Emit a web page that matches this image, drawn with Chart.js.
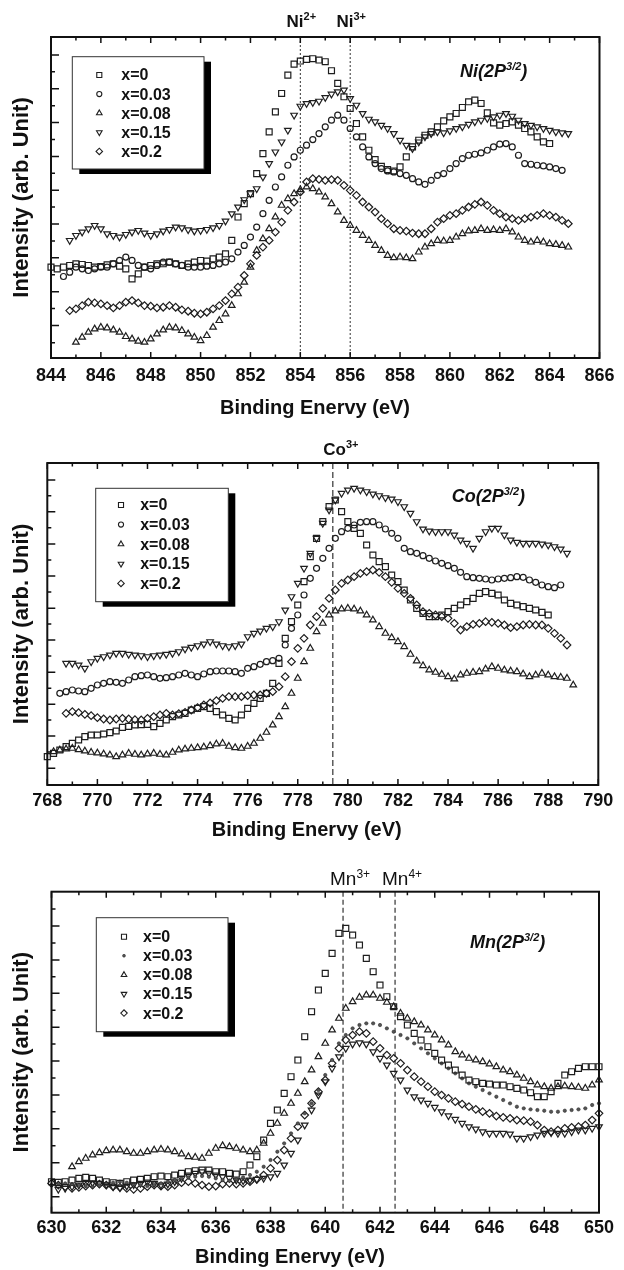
<!DOCTYPE html>
<html>
<head>
<meta charset="utf-8">
<script src="https://cdn.jsdelivr.net/npm/chart.js@4.4.0/dist/chart.umd.min.js"></script>
<style>
  html, body { margin: 0; padding: 0; background: #fff; }
  #wrap { position: relative; width: 624px; height: 1270px; }
  canvas { position: absolute; left: 0; }
</style>
</head>
<body>
<div id="wrap">
  <canvas id="niChart" width="624" height="420" style="top:0"></canvas>
  <canvas id="coChart" width="624" height="420" style="top:420px"></canvas>
  <canvas id="mnChart" width="624" height="430" style="top:840px"></canvas>
</div>
<script>
const seriesNames = ['x=0', 'x=0.03', 'x=0.08', 'x=0.15', 'x=0.2'];

// ---- Ni(2P3/2) ----
const niEnergy = [
  844, 844.25, 844.5, 844.75, 845, 845.25, 845.5, 845.75,
  846, 846.25, 846.5, 846.75, 847, 847.25, 847.5, 847.75,
  848, 848.25, 848.5, 848.75, 849, 849.25, 849.5, 849.75,
  850, 850.25, 850.5, 850.75, 851, 851.25, 851.5, 851.75,
  852, 852.25, 852.5, 852.75, 853, 853.25, 853.5, 853.75,
  854, 854.25, 854.5, 854.75, 855, 855.25, 855.5, 855.75,
  856, 856.25, 856.5, 856.75, 857, 857.25, 857.5, 857.75,
  858, 858.25, 858.5, 858.75, 859, 859.25, 859.5, 859.75,
  860, 860.25, 860.5, 860.75, 861, 861.25, 861.5, 861.75,
  862, 862.25, 862.5, 862.75, 863, 863.25, 863.5, 863.75,
  864, 864.25, 864.5, 864.75
];
const niX0 = [
  25.0, 24.5, 25.0, 25.5, 26.0, 25.8, 25.5, 25.0,
  25.2, 25.7, 26.0, 25.3, 24.5, 21.5, 23.0, 25.0,
  25.5, 26.0, 26.0, 26.5, 26.0, 25.5, 26.0, 26.5,
  27.0, 26.8, 27.5, 28.0, 29.0, 33.0, 40.0, 44.0,
  47.0, 53.0, 59.0, 65.5, 71.5, 77.0, 82.5, 85.8,
  86.7, 87.2, 87.4, 87.0, 86.5, 83.8, 80.0, 76.0,
  72.5, 68.0, 64.0, 60.0, 57.2, 55.2, 54.2, 53.8,
  55.0, 58.0, 61.0, 63.0, 64.5, 65.5, 67.0, 68.8,
  70.0, 71.0, 72.8, 74.5, 75.0, 74.0, 71.2, 68.2,
  67.5, 68.0, 68.5, 67.5, 66.5, 65.5, 64.0, 62.5,
  62.0, null, null, null
];
const niX003 = [
  null, null, 22.2, 23.5, 25.0, 24.5, 24.0, 24.5,
  25.0, 25.0, 26.0, 27.0, 28.0, 27.0, 25.5, 25.0,
  24.5, 25.5, 26.5, 26.5, 26.0, 25.5, 25.0, 25.0,
  25.0, 25.3, 25.5, 26.0, 26.5, 27.5, 29.5, 31.5,
  34.0, 37.0, 41.0, 45.0, 49.0, 52.0, 55.5, 58.0,
  60.0, 61.5, 63.2, 65.0, 67.0, 69.0, 70.5, 69.0,
  66.5, 64.0, 61.0, 58.0, 56.0, 54.5, 53.8, 53.5,
  53.0, 52.5, 51.5, 50.5, 49.8, 51.0, 52.5, 53.0,
  54.5, 56.0, 57.5, 58.5, 58.8, 59.2, 60.0, 61.0,
  61.8, 62.0, 61.0, 58.5, 56.0, 55.8, 55.5, 55.3,
  55.0, 54.5, 54.0, null
];
const niX008 = [
  null, null, null, null, 2.5, 4.0, 5.5, 6.5,
  7.0, 6.8, 6.2, 5.5, 4.2, 3.5, 2.8, 2.5,
  3.5, 5.0, 6.2, 7.0, 6.8, 6.0, 5.0, 4.0,
  3.0, 4.5, 7.0, 9.0, 11.0, 13.5, 17.0, 20.5,
  25.0, 30.0, 33.5, 36.5, 40.0, 43.5, 45.5, 47.0,
  48.2, 49.0, 48.5, 47.5, 46.0, 44.0, 41.5, 39.0,
  37.5, 36.0, 34.5, 33.0, 31.5, 30.0, 28.5, 27.8,
  28.0, 27.8, 27.5, 29.5, 31.0, 32.0, 33.0, 32.8,
  33.0, 34.0, 35.0, 35.8, 36.0, 36.5, 36.0, 36.2,
  36.0, 36.5, 35.5, 34.0, 33.0, 32.5, 33.0, 32.5,
  32.0, 31.8, 31.5, 31.0
];
const niX015 = [
  null, null, null, 33.0, 34.5, 35.5, 36.5, 37.5,
  36.5, 35.0, 34.5, 34.0, 34.8, 35.5, 36.0, 35.2,
  34.5, 35.0, 35.8, 36.3, 37.0, 36.8, 36.2, 35.8,
  36.0, 36.3, 36.8, 37.5, 38.8, 41.0, 43.0, 45.2,
  47.0, 48.5, 52.0, 56.0, 59.5, 62.5, 66.0, 70.5,
  73.2, 74.0, 74.3, 74.7, 75.8, 76.8, 77.5, 78.0,
  75.5, 73.5, 71.0, 69.3, 68.5, 67.5, 66.5, 65.0,
  63.0, 61.5, 60.5, 62.5, 64.0, 65.0, 65.5, 65.2,
  65.8, 66.5, 67.0, 67.8, 68.5, 69.0, 69.5, 70.0,
  70.5, 71.0, 70.2, 69.0, 68.0, 67.5, 67.0, 66.5,
  66.0, 65.5, 65.2, 65.0
];
const niX02 = [
  null, null, null, 12.0, 12.5, 13.5, 14.5, 14.3,
  14.0, 13.5, 12.8, 13.5, 14.5, 15.0, 14.3, 13.5,
  13.3, 12.8, 13.0, 13.5, 13.0, 12.2, 11.8, 11.2,
  11.0, 11.5, 12.5, 13.5, 15.0, 17.0, 19.0, 22.5,
  26.0, 28.5, 31.0, 33.0, 35.5, 38.5, 42.0, 44.5,
  47.5, 50.5, 51.5, 51.3, 51.0, 51.2, 51.0, 49.5,
  48.0, 46.5, 44.5, 43.0, 41.5, 39.5, 38.0, 36.5,
  36.0, 35.8, 35.2, 35.0, 35.0, 36.5, 38.5, 39.5,
  40.5, 41.0, 42.0, 43.0, 43.8, 44.5, 43.5, 42.0,
  41.0, 40.0, 39.5, 39.0, 39.5, 40.0, 40.5, 41.0,
  40.5, 40.0, 39.0, 38.0
];
const niTickLabels = [844, 846, 848, 850, 852, 854, 856, 858, 860, 862, 864, 866];
const niYMajor = [7.5, 17.6, 27.8, 37.9, 48.0, 58.1, 68.3, 78.4, 88.5];
const niYMinor = [2.4, 12.6, 22.7, 32.8, 43.0, 53.1, 63.2, 73.3, 83.5];
const niRefEnergy = [854, 856];
const niRefIon = ['Ni', 'Ni'];
const niRefCharge = ['2+', '3+'];

// ---- Co(2P3/2) ----
const coEnergy = [
  768, 768.25, 768.5, 768.75, 769, 769.25, 769.5, 769.75,
  770, 770.25, 770.5, 770.75, 771, 771.25, 771.5, 771.75,
  772, 772.25, 772.5, 772.75, 773, 773.25, 773.5, 773.75,
  774, 774.25, 774.5, 774.75, 775, 775.25, 775.5, 775.75,
  776, 776.25, 776.5, 776.75, 777, 777.25, 777.5, 777.75,
  778, 778.25, 778.5, 778.75, 779, 779.25, 779.5, 779.75,
  780, 780.25, 780.5, 780.75, 781, 781.25, 781.5, 781.75,
  782, 782.25, 782.5, 782.75, 783, 783.25, 783.5, 783.75,
  784, 784.25, 784.5, 784.75, 785, 785.25, 785.5, 785.75,
  786, 786.25, 786.5, 786.75, 787, 787.25, 787.5, 787.75,
  788, 788.25, 788.5, 788.75, 789
];
const coX0 = [
  5.5, 6.5, 7.5, 8.5, 9.5, 10.5, 11.5, 12.0,
  12.0, 12.3, 12.7, 13.2, 14.3, 14.6, 15.0, 15.1,
  15.2, 14.5, 15.5, 16.5, 17.5, 18.0, 18.5, 19.5,
  20.0, 20.5, 20.0, 19.0, 18.0, 17.0, 16.5, 18.0,
  20.0, 21.5, 23.0, 24.5, 27.5, 33.5, 41.0, 46.0,
  51.0, 58.0, 65.5, 71.0, 76.0, 80.5, 82.5, 79.0,
  76.0, 74.0, 72.5, 69.0, 66.0, 64.0, 62.5, 60.0,
  58.0, 55.5, 52.5, 50.0, 48.5, 47.5, 47.5, 48.0,
  49.0, 50.0, 51.0, 52.0, 53.0, 54.5, 55.0, 54.5,
  54.0, 52.5, 51.5, 51.0, 50.5, 50.0, 49.5, 48.8,
  48.0, null, null, null, null
];
const coX003 = [
  null, null, 24.5, 25.0, 25.5, 25.2, 25.0, 26.0,
  27.0, 27.5, 28.0, 27.8, 27.5, 28.5, 29.5, 29.8,
  30.0, 29.5, 29.0, 29.2, 29.5, 30.0, 30.5, 30.0,
  29.5, 30.3, 31.0, 31.2, 31.2, 31.2, 31.0, 30.5,
  32.0, 32.5, 33.2, 34.0, 34.3, 35.0, 39.0, 44.0,
  48.0, 54.0, 59.0, 62.0, 65.0, 68.0, 71.0, 73.0,
  74.0, 75.0, 75.8, 76.0, 76.0, 75.0, 73.8, 72.5,
  71.0, 68.0, 67.0, 66.5, 65.8, 65.0, 64.2, 63.5,
  62.8, 62.0, 60.8, 59.5, 59.2, 59.0, 58.8, 58.5,
  58.8, 59.0, 59.2, 59.5, 59.3, 58.5, 57.8, 57.0,
  56.5, 56.2, 57.0, null, null
];
const coX008 = [
  null, 7.0, 7.5, 7.8, 8.0, 7.6, 7.2, 6.8,
  6.6, 6.3, 6.0, 5.5, 6.0, 6.5, 6.2, 6.0,
  6.3, 6.5, 6.2, 6.0, 6.8, 7.5, 7.8, 8.0,
  8.2, 8.4, 8.8, 9.3, 9.5, 8.6, 8.2, 8.0,
  8.6, 9.5, 11.0, 12.8, 15.0, 17.5, 20.5, 24.5,
  29.0, 34.0, 38.0, 43.0, 45.5, 48.0, 49.2, 49.8,
  50.0, 49.8, 49.2, 48.0, 46.5, 44.5, 42.5, 41.2,
  40.0, 38.5, 36.2, 34.2, 32.8, 31.5, 30.8, 30.2,
  29.5, 28.8, 30.0, 30.5, 30.8, 31.0, 31.8, 32.5,
  32.0, 31.5, 31.2, 31.0, 30.3, 29.5, 30.0, 30.5,
  30.0, 29.5, 29.3, 29.0, 27.0
];
const coX015 = [
  null, null, null, 33.5, 33.5, 33.0, 32.0, 34.0,
  35.0, 35.5, 36.0, 36.5, 36.5, 36.2, 36.0, 35.8,
  35.5, 35.8, 36.0, 36.2, 36.5, 37.0, 37.8, 38.3,
  38.8, 39.3, 40.0, 39.3, 38.8, 38.5, 38.8, 39.3,
  41.5, 42.5, 43.2, 44.0, 44.5, 46.0, 49.5, 53.5,
  57.5, 62.0, 66.5, 71.0, 75.5, 79.5, 82.5, 84.5,
  85.5, 86.0, 85.5, 85.0, 84.3, 83.8, 83.2, 82.8,
  82.0, 80.5, 78.5, 76.0, 73.8, 73.2, 73.0, 73.0,
  73.0, 72.0, 70.5, 69.5, 68.0, 71.0, 73.0, 74.0,
  74.0, 72.0, 70.5, 69.8, 69.5, 69.5, 69.5, 69.3,
  69.0, 68.5, 67.8, 66.5, null
];
const coX02 = [
  null, null, null, 18.5, 19.0, 18.7, 18.2, 17.8,
  17.2, 16.8, 16.5, 16.8, 17.0, 16.8, 16.6, 16.5,
  17.0, 17.5, 18.0, 18.5, 18.0, 18.4, 18.8, 19.5,
  20.2, 21.0, 21.6, 22.3, 23.0, 23.5, 23.5, 23.5,
  23.8, 24.0, 24.0, 24.5, 25.0, 26.5, 29.5, 34.0,
  38.0, 41.0, 45.0, 47.5, 50.0, 53.0, 55.5, 57.5,
  58.5, 59.5, 60.5, 61.0, 61.5, 60.8, 59.5, 57.8,
  56.0, 54.5, 53.0, 51.0, 49.0, 48.5, 48.0, 47.5,
  47.0, 45.5, 43.5, 44.5, 45.2, 45.5, 46.0, 45.8,
  45.5, 45.0, 44.2, 44.5, 45.0, 45.2, 45.0, 45.0,
  44.0, 42.5, 41.0, 39.0, null
];
const coTickLabels = [768, 770, 772, 774, 776, 778, 780, 782, 784, 786, 788, 790];
const coYMajor = [2.0, 11.7, 21.2, 30.8, 40.5, 50.0, 59.7, 69.3, 79.0, 88.5];
const coYMinor = [6.9, 16.5, 26.0, 35.7, 45.3, 54.9, 64.5, 74.2, 83.8];
const coRefEnergy = [779.4];
const coRefIon = ['Co'];
const coRefCharge = ['3+'];

// ---- Mn(2P3/2) ----
const mnEnergy = [
  630, 630.25, 630.5, 630.75, 631, 631.25, 631.5, 631.75,
  632, 632.25, 632.5, 632.75, 633, 633.25, 633.5, 633.75,
  634, 634.25, 634.5, 634.75, 635, 635.25, 635.5, 635.75,
  636, 636.25, 636.5, 636.75, 637, 637.25, 637.5, 637.75,
  638, 638.25, 638.5, 638.75, 639, 639.25, 639.5, 639.75,
  640, 640.25, 640.5, 640.75, 641, 641.25, 641.5, 641.75,
  642, 642.25, 642.5, 642.75, 643, 643.25, 643.5, 643.75,
  644, 644.25, 644.5, 644.75, 645, 645.25, 645.5, 645.75,
  646, 646.25, 646.5, 646.75, 647, 647.25, 647.5, 647.75,
  648, 648.25, 648.5, 648.75, 649, 649.25, 649.5, 649.75,
  650
];
const mnX0 = [
  6.5, 6.3, 6.5, 7.0, 7.5, 7.8, 7.5, 7.0,
  6.5, 6.2, 6.0, 6.5, 7.0, 7.2, 7.5, 8.0,
  8.2, 8.0, 8.5, 9.0, 9.5, 9.8, 10.0, 10.0,
  9.5, 9.5, 9.0, 8.8, 9.5, 11.5, 14.0, 19.0,
  24.0, 28.0, 33.0, 38.0, 43.0, 50.0, 57.5, 64.0,
  69.0, 75.0, 81.0, 82.5, 80.5, 77.5, 73.5, 69.5,
  65.5, 62.0, 59.0, 56.0, 53.5, 51.0, 49.0, 47.0,
  45.0, 43.0, 41.5, 40.0, 38.5, 37.0, 36.5, 36.0,
  35.8, 35.5, 35.5, 35.0, 34.5, 34.0, 33.2, 32.0,
  32.0, 33.5, 36.0, 38.5, 39.5, 40.5, 41.0, 41.0,
  41.0
];
const mnX003 = [
  5.5, 5.8, 6.0, 5.8, 5.5, 5.2, 5.0, 5.3,
  5.8, 6.2, 6.5, 6.2, 5.8, 5.5, 5.2, 5.5,
  6.0, 6.5, 7.0, 7.5, 7.8, 8.0, 8.2, 8.0,
  7.5, 7.0, 6.8, 7.2, 7.8, 8.5, 9.5, 11.0,
  13.0, 15.5, 18.0, 21.0, 24.0, 27.0, 30.0, 34.0,
  38.5, 43.0, 48.0, 50.5, 52.5, 53.5, 54.0, 54.0,
  53.5, 52.5, 51.5, 50.5, 49.5, 48.0, 46.5, 45.0,
  43.5, 42.0, 40.5, 39.0, 37.5, 36.0, 35.0, 34.0,
  33.0, 32.0, 31.0, 30.0, 29.0, 28.5, 28.2, 28.0,
  27.8, 27.5, 27.5, 27.8, 28.0, 28.2, 28.5, 29.5,
  30.0
];
const mnX008 = [
  null, null, null, 11.0, 12.5, 13.5, 14.5, 15.2,
  15.8, 16.0, 16.0, 15.5, 15.0, 15.0, 15.5, 16.0,
  16.2, 16.0, 15.5, 14.8, 14.0, 13.8, 13.5, 15.0,
  16.5, 17.3, 17.0, 16.5, 16.0, 15.5, 16.0, 18.0,
  21.0, 24.0, 27.0, 30.0, 33.0, 36.5, 40.0, 44.0,
  48.0, 52.0, 55.5, 58.5, 60.5, 61.8, 62.5, 62.5,
  61.5, 60.3, 59.0, 57.0, 55.5, 54.5, 53.5, 52.0,
  50.5, 49.0, 47.5, 45.5, 44.5, 43.5, 43.0, 42.5,
  41.8, 41.0, 40.0, 39.5, 38.5, 37.5, 36.5, 35.5,
  35.0, 34.5, 35.0, 35.2, 35.0, 34.8, 34.5, 35.5,
  37.0
];
const mnX015 = [
  null, 4.2, 4.5, 5.0, 5.5, 6.0, 6.2, 6.0,
  5.6, 5.0, 4.7, 5.2, 5.6, 6.0, 6.4, 6.0,
  5.5, 5.8, 6.5, 7.5, 8.5, 9.0, 9.5, 9.0,
  8.5, 8.0, 7.5, 7.0, 6.8, 7.0, 7.2, 7.5,
  8.0, 9.0, 11.5, 15.0, 19.0, 23.5, 28.0, 32.5,
  36.5, 40.5, 44.0, 46.5, 47.8, 48.2, 47.8, 45.5,
  43.5, 41.5, 39.0, 37.0, 34.0, 32.0, 31.0, 30.0,
  28.8, 27.5, 26.3, 25.2, 24.0, 23.0, 22.3, 21.5,
  21.0, 21.0, 21.0, 20.8, 19.5, 19.5, 20.0, 20.5,
  21.0, 21.2, 21.0, 21.0, 21.5, 22.0, 22.0, 22.5,
  23.0
];
const mnX02 = [
  6.0, 5.5, 5.0, 4.5, 4.8, 5.2, 5.5, 5.8,
  5.5, 5.0, 4.8, 4.5, 4.2, 4.5, 5.0, 5.5,
  5.2, 5.0, 5.5, 6.2, 6.5, 6.0, 5.5, 5.0,
  5.2, 5.8, 6.0, 5.8, 6.0, 6.5, 7.2, 8.5,
  10.5, 13.0, 16.0, 19.5, 23.0, 26.5, 30.0, 33.5,
  37.0, 42.0, 46.5, 49.0, 50.5, 51.5, 51.0, 48.5,
  46.5, 44.5, 43.5, 42.0, 40.0, 38.0, 36.5, 35.0,
  33.5, 32.5, 31.5, 30.5, 29.8, 29.0, 28.2, 27.5,
  27.0, 26.2, 25.8, 25.5, 25.0, 24.8, 24.5, 23.5,
  22.0, 21.5, 22.0, 22.5, 22.8, 23.0, 23.5, 25.0,
  27.0
];
const mnTickLabels = [630, 632, 634, 636, 638, 640, 642, 644, 646, 648, 650];
const mnYMajor = [2.0, 12.2, 22.4, 32.5, 42.7, 52.8, 63.0, 73.0, 83.2];
const mnYMinor = [7.1, 17.3, 27.5, 37.6, 47.8, 57.9, 68.0, 78.1, 88.3];
const mnRefEnergy = [640.65, 642.55];
const mnRefIon = ['Mn', 'Mn'];
const mnRefCharge = ['3+', '4+'];

const FONT = "'Liberation Sans', Arial, Helvetica, sans-serif";
const INK = '#1e1e1e';

const markerStyles = [
  { pointStyle: 'rect', radius: 4.2, rotation: 0 },
  { pointStyle: 'circle', radius: 3.0, rotation: 0 },
  { pointStyle: 'triangle', radius: 3.8, rotation: 0 },
  { pointStyle: 'triangle', radius: 3.8, rotation: 180 },
  { pointStyle: 'rectRot', radius: 3.8, rotation: 0 }
];
const dotStyle = { pointStyle: 'circle', radius: 1.7, rotation: 0, filled: true };

function drawRich(ctx, parts, x, y, align) {
  let w = 0;
  parts.forEach(p => { ctx.font = p.font; w += ctx.measureText(p.t).width; });
  let cx = align === 'center' ? x - w / 2 : x;
  parts.forEach(p => {
    ctx.font = p.font;
    ctx.fillText(p.t, cx, y - (p.rise || 0));
    cx += ctx.measureText(p.t).width;
  });
}

function drawMarker(ctx, st, x, y) {
  ctx.save();
  ctx.strokeStyle = INK;
  ctx.fillStyle = st.filled ? '#555' : 'rgba(0,0,0,0)';
  ctx.lineWidth = st.filled ? 0.5 : 1.1;
  if (Chart.helpers && Chart.helpers.drawPoint) {
    Chart.helpers.drawPoint(ctx, { pointStyle: st.pointStyle, radius: st.radius * 0.85, rotation: st.rotation, borderWidth: ctx.lineWidth }, x, y);
  }
  ctx.restore();
}

function framePlugin(p) {
  return {
    id: 'frame' + p.id,
    beforeDatasetsDraw(chart) {
      const { ctx, chartArea: a } = chart;
      const xs = chart.scales.x;
      ctx.save();
      ctx.strokeStyle = '#333';
      ctx.lineWidth = p.dashWidth;
      ctx.setLineDash(p.dash);
      p.refEnergy.forEach(e => {
        const px = xs.getPixelForValue(e);
        ctx.beginPath();
        ctx.moveTo(px, a.top);
        ctx.lineTo(px, a.bottom);
        ctx.stroke();
      });
      ctx.restore();
    },
    afterDraw(chart) {
      const { ctx, chartArea: a } = chart;
      const xs = chart.scales.x, ys = chart.scales.y;
      ctx.save();
      ctx.fillStyle = '#111';
      ctx.strokeStyle = '#111';

      // frame
      ctx.lineWidth = 2;
      ctx.strokeRect(a.left, a.top, a.right - a.left, a.bottom - a.top);

      // inward ticks
      ctx.lineWidth = 1.5;
      ctx.beginPath();
      const xMinorTicks = [];
      p.tickLabels.forEach((v, i) => { if (i < p.tickLabels.length - 1) xMinorTicks.push((v + p.tickLabels[i + 1]) / 2); });
      p.tickLabels.forEach(v => {
        const px = xs.getPixelForValue(v);
        ctx.moveTo(px, a.bottom); ctx.lineTo(px, a.bottom - 6);
        ctx.moveTo(px, a.top); ctx.lineTo(px, a.top + 6);
      });
      xMinorTicks.forEach(v => {
        const px = xs.getPixelForValue(v);
        ctx.moveTo(px, a.bottom); ctx.lineTo(px, a.bottom - 3.5);
        ctx.moveTo(px, a.top); ctx.lineTo(px, a.top + 3.5);
      });
      p.yMajor.forEach(v => {
        const py = ys.getPixelForValue(v);
        ctx.moveTo(a.left, py); ctx.lineTo(a.left + 8, py);
      });
      p.yMinor.forEach(v => {
        const py = ys.getPixelForValue(v);
        ctx.moveTo(a.left, py); ctx.lineTo(a.left + 4, py);
      });
      ctx.stroke();

      // tick labels
      ctx.font = 'bold 18px ' + FONT;
      ctx.textAlign = 'center';
      ctx.textBaseline = 'alphabetic';
      p.tickLabels.forEach(v => {
        ctx.fillText(String(v), xs.getPixelForValue(v), a.bottom + p.tickBase);
      });

      // axis titles
      ctx.font = 'bold 20px ' + FONT;
      ctx.fillText('Binding Enervy (eV)', p.titleX, p.titleBase);
      ctx.save();
      ctx.font = 'bold 22px ' + FONT;
      ctx.translate(22, (a.top + a.bottom) / 2);
      ctx.rotate(-Math.PI / 2);
      ctx.textBaseline = 'middle';
      ctx.fillText('Intensity (arb. Unit)', 0, 0);
      ctx.restore();

      // reference labels above the frame
      ctx.textAlign = 'left';
      ctx.textBaseline = 'alphabetic';
      const w = p.refBold ? 'bold ' : '';
      p.refEnergy.forEach((e, i) => {
        drawRich(ctx, [
          { t: p.refIon[i], font: w + p.refSize + 'px ' + FONT },
          { t: p.refCharge[i], font: w + p.refSup + 'px ' + FONT, rise: 7 }
        ], xs.getPixelForValue(e) + p.refDx, p.refBase, 'center');
      });

      // element label
      drawRich(ctx, [
        { t: p.element + '(2P', font: 'italic bold 18px ' + FONT },
        { t: '3/2', font: 'italic bold 11px ' + FONT, rise: 7 },
        { t: ')', font: 'italic bold 18px ' + FONT }
      ], p.elemX, p.elemBase, 'left');

      // legend box with drop shadow
      const L = p.legend;
      ctx.fillStyle = '#000';
      ctx.fillRect(L.x + 7, L.y + 5, L.w, L.h);
      ctx.fillStyle = '#fff';
      ctx.fillRect(L.x, L.y, L.w, L.h);
      ctx.lineWidth = 1;
      ctx.strokeStyle = '#333';
      ctx.strokeRect(L.x, L.y, L.w, L.h);
      ctx.font = 'bold 16px ' + FONT;
      ctx.textBaseline = 'middle';
      seriesNames.forEach((name, i) => {
        const ry = L.y + L.row0 + i * L.step;
        drawMarker(ctx, p.styles[i], L.x + L.markerDx, ry);
        ctx.fillStyle = '#111';
        ctx.fillText(name, L.x + L.textDx, ry + 1);
      });
      ctx.restore();
    }
  };
}

function makePanel(p) {
  const datasets = p.series.map((vals, i) => {
    const st = p.styles[i];
    return {
      label: seriesNames[i],
      data: p.energy.map((e, k) => ({ x: e, y: vals[k] })).filter(pt => pt.y !== null),
      pointStyle: st.pointStyle,
      pointRadius: st.radius,
      pointRotation: st.rotation,
      pointBorderWidth: st.filled ? 0.5 : 1.2,
      borderColor: INK,
      backgroundColor: st.filled ? '#555' : 'rgba(0,0,0,0)',
      showLine: false,
      clip: false
    };
  });
  return new Chart(document.getElementById(p.canvas).getContext('2d'), {
    type: 'scatter',
    data: { datasets },
    options: {
      responsive: false,
      animation: false,
      devicePixelRatio: 1,
      layout: { padding: p.padding },
      plugins: { legend: { display: false }, tooltip: { enabled: false } },
      scales: {
        x: { type: 'linear', display: false, min: p.xMin, max: p.xMax },
        y: { type: 'linear', display: false, min: p.yMin, max: p.yMax }
      }
    },
    plugins: [framePlugin(p)]
  });
}

makePanel({
  id: 'ni', canvas: 'niChart', element: 'Ni',
  energy: niEnergy, series: [niX0, niX003, niX008, niX015, niX02],
  styles: markerStyles,
  padding: { left: 51, right: 24.5, top: 37, bottom: 62 },
  xMin: 844, xMax: 866, yMin: -2.2, yMax: 93.9,
  tickLabels: niTickLabels, yMajor: niYMajor, yMinor: niYMinor,
  refEnergy: niRefEnergy, refIon: niRefIon, refCharge: niRefCharge,
  refBold: true, refSize: 17, refSup: 11, refDx: 1, refBase: 26.7,
  dash: [2, 2], dashWidth: 1,
  elemX: 460, elemBase: 77,
  legend: { x: 72.3, y: 56.7, w: 131.7, h: 112.3, markerDx: 27, textDx: 49, row0: 18.3, step: 19.1 },
  tickBase: 22.5, titleX: 315, titleBase: 414
});

makePanel({
  id: 'co', canvas: 'coChart', element: 'Co',
  energy: coEnergy, series: [coX0, coX003, coX008, coX015, coX02],
  styles: markerStyles,
  padding: { left: 47.3, right: 25.7, top: 43, bottom: 55 },
  xMin: 768, xMax: 790, yMin: -3, yMax: 93.6,
  tickLabels: coTickLabels, yMajor: coYMajor, yMinor: coYMinor,
  refEnergy: coRefEnergy, refIon: coRefIon, refCharge: coRefCharge,
  refBold: true, refSize: 17, refSup: 11, refDx: 8, refBase: 35,
  dash: [6, 3], dashWidth: 1.2,
  elemX: 451.7, elemBase: 81.7,
  legend: { x: 95.7, y: 68.3, w: 132.6, h: 113.4, markerDx: 25.3, textDx: 44.5, row0: 16.7, step: 19.6 },
  tickBase: 21, titleX: 306.7, titleBase: 416
});

makePanel({
  id: 'mn', canvas: 'mnChart', element: 'Mn',
  energy: mnEnergy, series: [mnX0, mnX003, mnX008, mnX015, mnX02],
  styles: [markerStyles[0], dotStyle, markerStyles[2], markerStyles[3], markerStyles[4]],
  padding: { left: 51.5, right: 25, top: 51.7, bottom: 57.3 },
  xMin: 630, xMax: 650, yMin: -2.8, yMax: 93.5,
  tickLabels: mnTickLabels, yMajor: mnYMajor, yMinor: mnYMinor,
  refEnergy: mnRefEnergy, refIon: mnRefIon, refCharge: mnRefCharge,
  refBold: false, refSize: 19, refSup: 12, refDx: 7, refBase: 45,
  dash: [5, 3], dashWidth: 1.2,
  elemX: 470, elemBase: 108.3,
  legend: { x: 96.3, y: 77.7, w: 131.7, h: 114, markerDx: 27.7, textDx: 46.7, row0: 19, step: 19.1 },
  tickBase: 20.6, titleX: 290, titleBase: 422.7
});
</script>
</body>
</html>
